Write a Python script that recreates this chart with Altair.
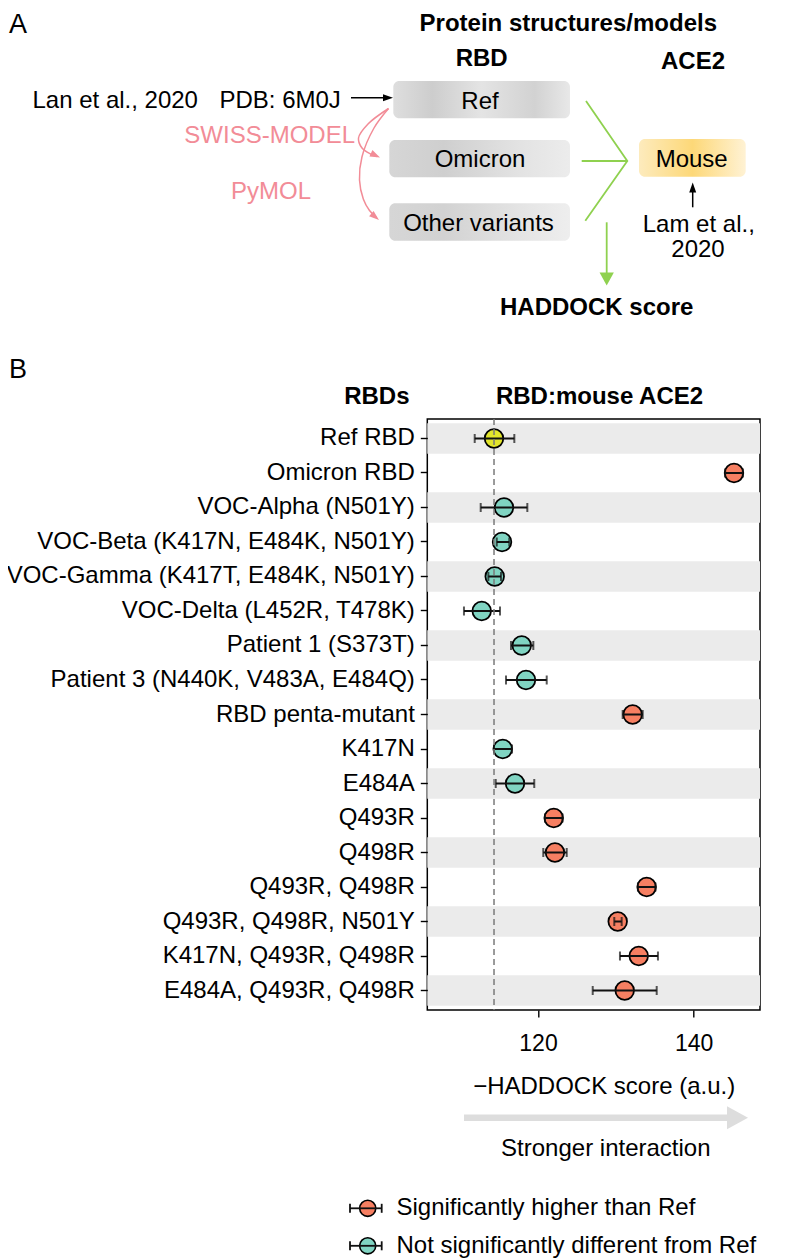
import math
import altair as alt
import pandas as pd

# ---------------- Panel B data ----------------
rbd_labels = [
    "Ref RBD", "Omicron RBD", "VOC-Alpha (N501Y)", "VOC-Beta (K417N, E484K, N501Y)",
    "VOC-Gamma (K417T, E484K, N501Y)", "VOC-Delta (L452R, T478K)", "Patient 1 (S373T)",
    "Patient 3 (N440K, V483A, E484Q)", "RBD penta-mutant", "K417N", "E484A", "Q493R", "Q498R",
    "Q493R, Q498R", "Q493R, Q498R, N501Y", "K417N, Q493R, Q498R", "E484A, Q493R, Q498R",
]
score_mean = [114.35, 145.18, 115.63, 115.38, 114.44, 112.77, 117.91, 118.46, 132.16,
              115.47, 117.05, 122.02, 122.18, 133.96, 130.24, 132.94, 131.14]
score_low = [111.87, 144.05, 112.64, 114.70, 113.62, 110.49, 116.53, 115.89, 130.88,
             114.35, 114.57, 120.90, 120.68, 132.84, 129.80, 130.53, 127.03]
score_high = [116.96, 146.31, 118.63, 116.31, 115.25, 115.12, 119.40, 121.12, 133.45,
              116.66, 119.52, 123.14, 123.69, 135.08, 130.75, 135.41, 135.25]
significance = ["ref", "sig", "ns", "ns", "ns", "ns", "ns", "ns", "sig",
                "ns", "ns", "sig", "sig", "sig", "sig", "sig", "sig"]
x_ticks = [120, 140]
x_domain = [105.78, 148.52]
group_domain = ["sig", "ns", "ref"]
group_colors = ["#f67f62", "#80d4c2", "#e2e52c"]
legend_labels = ["Significantly higher than Ref", "Not significantly different from Ref"]

FONT = "Liberation Sans, Arial, Helvetica, sans-serif"

# ---------------- layout (page pixel coordinates) ----------------
OX, OY = 427.3, 419.0      # plot-area origin on the page
W, H = 332.7, 591.0        # plot-area size


def L(X):
    return round(X - OX, 2)


def T(Y):
    return round(Y - OY, 2)


df = pd.DataFrame({
    "label": rbd_labels, "mean": score_mean, "lo": score_low, "hi": score_high,
    "group": significance,
})
df["stripe"] = [i % 2 == 0 for i in range(len(df))]

xscale = alt.Scale(domain=x_domain, nice=False, zero=False)
yscale = alt.Scale(domain=rbd_labels, paddingInner=0.12, paddingOuter=0.125)
xaxis = alt.Axis(values=x_ticks, labelFontSize=23, labelFont=FONT, labelColor="black",
                 tickSize=7, tickWidth=1.4, tickColor="black", domain=False, grid=False,
                 labelPadding=15, title=None)
yaxis = alt.Axis(labelFontSize=24, labelFont=FONT, labelColor="black", tickSize=7,
                 tickWidth=1.4, tickColor="black", domain=False, grid=False,
                 labelPadding=6, labelLimit=700, title=None)
Y = alt.Y("label:N", scale=yscale, sort=rbd_labels, axis=yaxis, title=None)

base = alt.Chart(df)
stripes = alt.Chart(df[df["stripe"]]).mark_rect(color="#ebebeb").encode(
    y=Y, x=alt.value(0), x2=alt.value(W))
points = base.mark_circle(size=345, stroke="black", strokeWidth=1.8, opacity=1).encode(
    x=alt.X("mean:Q", scale=xscale, axis=xaxis, title=None), y=Y,
    fill=alt.Fill("group:N", scale=alt.Scale(domain=group_domain, range=group_colors), legend=None))
bars = base.mark_rule(color="#111111", strokeWidth=2).encode(
    x=alt.X("lo:Q", scale=xscale, axis=xaxis, title=None), x2="hi:Q", y=Y)
cap_lo = base.mark_tick(color="#111111", size=9, thickness=2).encode(
    x=alt.X("lo:Q", scale=xscale, axis=xaxis, title=None), y=Y)
cap_hi = base.mark_tick(color="#111111", size=9, thickness=2).encode(
    x=alt.X("hi:Q", scale=xscale, axis=xaxis, title=None), y=Y)
ref_line = alt.Chart(pd.DataFrame({"ref": [score_mean[0]]})).mark_rule(
    color="#7a7a7a", strokeWidth=1.5, strokeDash=[6, 4]).encode(
    x=alt.X("ref:Q", scale=xscale, axis=xaxis, title=None))

panel_b = alt.layer(stripes, points, bars, cap_lo, cap_hi, ref_line)

# ---------------- annotation helpers ----------------
PX = lambda f="px": alt.X(f"{f}:Q", scale=None, axis=None)
PY = lambda f="py": alt.Y(f"{f}:Q", scale=None, axis=None)


def text_layer(items, **mark):
    d = pd.DataFrame(items, columns=["t", "X", "Y"])
    d["px"] = d["X"].map(L)
    d["py"] = d["Y"].map(T)
    props = dict(baseline="alphabetic", font=FONT, fontSize=24, color="black")
    props.update(mark)
    return alt.Chart(d).mark_text(**props).encode(text="t:N", x=PX(), y=PY())


texts = [
    text_layer([("Ref", 480, 109.3), ("Omicron", 480, 167), ("Other variants", 478.5, 231),
                ("Mouse", 691.7, 166.7), ("Lam et al.,", 698.8, 232), ("2020", 698, 257),
                ("\u2212HADDOCK score (a.u.)", 604.2, 1094),
                ("Stronger interaction", 605.8, 1156)], align="center"),
    text_layer([("Lan et al., 2020", 32.5, 108.3), ("PDB: 6M0J", 219.5, 108.3),
                (legend_labels[0], 396.5, 1215), (legend_labels[1], 396.5, 1252.7)],
               align="left"),
    text_layer([("Protein structures/models", 568.3, 30.5), ("RBD", 481.7, 66),
                ("ACE2", 693, 69), ("HADDOCK score", 596.7, 315),
                ("RBD:mouse ACE2", 599.5, 404)], align="center", fontWeight="bold"),
    text_layer([("RBDs", 409.5, 404)], align="right", fontWeight="bold"),
    text_layer([("SWISS-MODEL", 269.7, 143.3), ("PyMOL", 271, 199.3)],
               align="center", color="#f28c97"),
    text_layer([("A", 9, 33), ("B", 9, 378)], align="left", fontSize=27),
]


def grad(stops):
    return alt.LinearGradient(
        gradient="linear", x1=0, x2=1, y1=0, y2=0,
        stops=[alt.GradientStop(offset=o, color=c) for o, c in stops])


one = pd.DataFrame({"a": [0]})
boxes_spec = [
    (393.3, 570, 81, 118.3, grad([(0, "#dedede"), (0.22, "#cdcdcd"), (0.5, "#e4e4e4"),
                                  (0.8, "#d2d2d2"), (1, "#e8e8e8")])),
    (389.3, 570, 140, 177.3, grad([(0, "#d6d6d6"), (0.3, "#cfcfcf"), (0.7, "#e2e2e2"),
                                   (1, "#ececec")])),
    (389.3, 570, 203.3, 240.7, grad([(0, "#d6d6d6"), (0.3, "#d2d2d2"), (0.7, "#e3e3e3"),
                                     (1, "#eeeeee")])),
    (639, 745.7, 139, 176.7, grad([(0, "#fdebbd"), (0.5, "#fdd878"), (1, "#fff2d4")])),
]
boxes = [
    alt.Chart(one).mark_rect(fill=g, cornerRadius=6).encode(
        x=alt.value(L(x1)), x2=alt.value(L(x2)), y=alt.value(T(y1)), y2=alt.value(T(y2)))
    for x1, x2, y1, y2, g in boxes_spec
]

# straight lines
rule_rows = [
    (351, 97.7, 386, 97.7, "black", 1.5),
    (692.7, 207.3, 692.7, 189, "black", 1.5),
    (606.7, 222.3, 606.7, 274, "#8fd14f", 1.8),
    (464, 1117.7, 728, 1117.7, "#dddddd", 6.5),
    (350, 1208.3, 381.7, 1208.3, "#111111", 1.8),
    (350, 1245.8, 381.7, 1245.8, "#111111", 1.8),
    (350, 1203.8, 350, 1212.8, "#111111", 1.8),
    (381.7, 1203.8, 381.7, 1212.8, "#111111", 1.8),
    (350, 1241.3, 350, 1250.3, "#111111", 1.8),
    (381.7, 1241.3, 381.7, 1250.3, "#111111", 1.8),
]
rd = pd.DataFrame(rule_rows, columns=["X1", "Y1", "X2", "Y2", "col", "w"])
rd["px"], rd["py"] = rd["X1"].map(L), rd["Y1"].map(T)
rd["px2"], rd["py2"] = rd["X2"].map(L), rd["Y2"].map(T)
rules_main = alt.Chart(rd.iloc[:4]).mark_rule().encode(
    x=PX(), y=PY(), x2="px2:Q", y2="py2:Q",
    color=alt.Color("col:N", scale=None), strokeWidth=alt.StrokeWidth("w:Q", scale=None))

# legend symbols
leg = pd.DataFrame({"px": [L(367.7), L(367.7)], "py": [T(1208.3), T(1245.8)],
                    "col": [group_colors[0], group_colors[1]]})
leg_pts = alt.Chart(leg).mark_circle(size=260, stroke="black", strokeWidth=1.6, opacity=1).encode(
    x=PX(), y=PY(), fill=alt.Fill("col:N", scale=None))
rules_leg = alt.Chart(rd.iloc[4:]).mark_rule().encode(
    x=PX(), y=PY(), x2="px2:Q", y2="py2:Q",
    color=alt.Color("col:N", scale=None), strokeWidth=alt.StrokeWidth("w:Q", scale=None))

# poly-lines / curves
green_paths = [
    ("a", [(586, 101), (627.3, 161), (585.3, 220.7)]),
    ("b", [(581.7, 161), (627.3, 161)]),
]
pink_paths = [
    ("c1", [(388.5, 108.5), (368, 124), (358.5, 138), (362, 148), (370.5, 154), (377, 156.5)]),
    ("c2", [(388.5, 108.5), (374, 128), (362, 156.7), (359.5, 180), (363.3, 199),
            (369.5, 210.5), (376.5, 217.5)]),
]


def path_df(paths):
    rows = []
    for name, pts in paths:
        for i, (X, Yv) in enumerate(pts):
            rows.append({"path": name, "i": i, "px": L(X), "py": T(Yv)})
    return pd.DataFrame(rows)


green_lines = alt.Chart(path_df(green_paths)).mark_line(
    color="#8fd14f", strokeWidth=1.8, interpolate="linear").encode(
    x=PX(), y=PY(), detail="path:N", order="i:Q")
pink_lines = alt.Chart(path_df(pink_paths)).mark_line(
    color="#f28c97", strokeWidth=1.5, interpolate="catmull-rom").encode(
    x=PX(), y=PY(), detail="path:N", order="i:Q")


def head(tipX, tipY, ang, length, color):
    a = math.radians(ang)
    cx = tipX - length / 2 * math.cos(a)
    cy = tipY - length / 2 * math.sin(a)
    return {"px": L(cx), "py": T(cy), "ang": ang, "sz": length ** 2, "col": color}


narrow_heads = pd.DataFrame([
    head(393, 97.7, 0, 10, "black"),
    head(692.7, 182.5, 270, 10, "black"),
    head(380, 157.5, 25, 10, "#f28c97"),
    head(379, 220, 40, 10, "#f28c97"),
])
wide_heads = pd.DataFrame([
    head(606.7, 285.5, 90, 13, "#8fd14f"),
    head(748, 1117.7, 0, 21, "#dddddd"),
])
heads_n = alt.Chart(narrow_heads).mark_point(
    shape="M1,0L-1,-0.7L-1,0.7Z", filled=True, opacity=1, strokeWidth=0).encode(
    x=PX(), y=PY(), angle=alt.Angle("ang:Q", scale=None), size=alt.Size("sz:Q", scale=None),
    fill=alt.Fill("col:N", scale=None))
heads_w = alt.Chart(wide_heads).mark_point(
    shape="M1,0L-1,-1.1L-1,1.1Z", filled=True, opacity=1, strokeWidth=0).encode(
    x=PX(), y=PY(), angle=alt.Angle("ang:Q", scale=None), size=alt.Size("sz:Q", scale=None),
    fill=alt.Fill("col:N", scale=None))

chart = alt.layer(
    panel_b, *boxes, green_lines, pink_lines, rules_main, heads_n, heads_w,
    leg_pts, rules_leg, *texts,
).resolve_scale(
    x="independent", y="independent", fill="independent", size="independent",
    angle="independent", color="independent", strokeWidth="independent",
).properties(
    width=W, height=H,
    autosize=alt.AutoSizeParams(type="none"),
    padding={"left": OX - 8, "top": OY - 8, "right": 787 - 8 - (OX + W), "bottom": 262},
    background="white",
).configure_view(stroke="black", strokeWidth=1.5)

chart.save("out.html", embed_options={"renderer": "svg", "actions": False})
